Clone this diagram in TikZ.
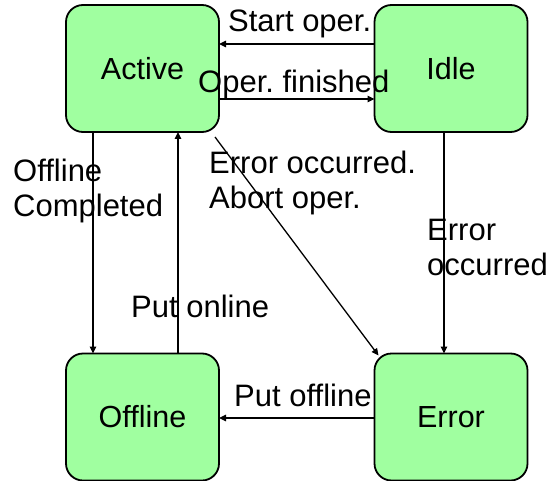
\documentclass[tikz,border=0pt]{standalone}
\usepackage{fontspec}
\setmainfont{Liberation Sans}
\usetikzlibrary{arrows.meta}
\definecolor{statefill}{RGB}{160,255,160}
\frenchspacing
\tikzset{
  state/.style={draw=black, line width=1.8pt, fill=statefill, rounded corners=17pt,
    minimum width=153pt, minimum height=127pt, inner sep=0pt, outer sep=0pt,
    font=\fontsize{30.5}{35}\selectfont},
  trans/.style={draw=black, line width=1.3pt, -{Triangle[length=7pt,width=6.5pt]}},
  lbl/.style={anchor=base west, inner sep=0pt, align=left,
    font=\fontsize{31}{35}\selectfont}
}
\begin{document}
\begin{tikzpicture}[x=1pt,y=-1pt]
\useasboundingbox (0,0) rectangle (548,481);

% states
\node[state] (Active)  at (142.5,68.5) {Active};
\node[state] (Idle)    at (451,68.5)   {Idle};
\node[state] (Offline) at (142.5,417)  {Offline};
\node[state] (Error)   at (451,417)    {Error};

% transitions
\draw[trans] ([yshift=24.5pt]Idle.west) -- ([yshift=24.5pt]Active.east);
\draw[trans] ([yshift=-30.5pt]Active.east) -- ([yshift=-30.5pt]Idle.west);
\draw[trans] ([xshift=-49.5pt]Active.south) -- ([xshift=-49.5pt]Offline.north);
\draw[trans] ([xshift=35.5pt]Offline.north) -- ([xshift=35.5pt]Active.south);
\draw[trans] ([shift={(-4,5)}]Active.south east) -- ([shift={(4,2)}]Error.north west);
\draw[trans] ([xshift=-7pt]Idle.south) -- ([xshift=-7pt]Error.north);
\draw[trans] ([yshift=-1pt]Error.west) -- ([yshift=-1pt]Offline.east);

% transition labels (base anchor sits on the last line)
\node[lbl] (lStart)   at (228,32)  {Start oper.};
\node[lbl] (lFinish)  at (198,93)  {Oper. finished};
\node[lbl] (lOffC)    at (13,216)  {Offline\\Completed};
\node[lbl] (lAbort)   at (209,208) {Error occurred.\\Abort oper.};
\node[lbl] (lErr)     at (427,275) {Error\\occurred};
\node[lbl] (lOnline)  at (131,317) {Put online};
\node[lbl] (lOffline) at (234,406) {Put offline};
\end{tikzpicture}
\end{document}
